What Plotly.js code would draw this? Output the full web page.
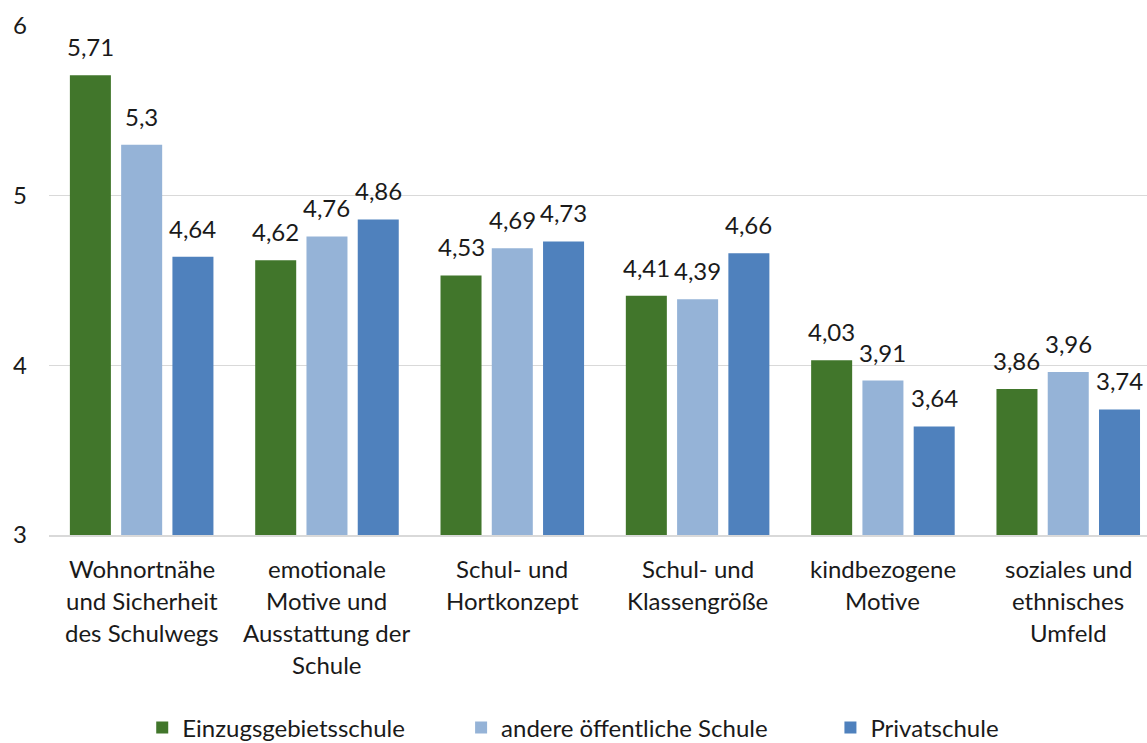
<!DOCTYPE html>
<html>
<head>
<meta charset="utf-8">
<script src="https://cdn.plot.ly/plotly-3.0.1.min.js"></script>
<style>
  html, body { margin: 0; padding: 0; background: #fff; }
  #plot { width: 1147px; height: 743px; }
</style>
</head>
<body>
<div id="plot"></div>
<script>
const categories = [
    ['Wohnortnähe', 'und Sicherheit', 'des Schulwegs'],
    ['emotionale', 'Motive und', 'Ausstattung der', 'Schule'],
    ['Schul- und', 'Hortkonzept'],
    ['Schul- und', 'Klassengröße'],
    ['kindbezogene', 'Motive'],
    ['soziales und', 'ethnisches', 'Umfeld']
];
const seriesNames = ['Einzugsgebietsschule', 'andere öffentliche Schule', 'Privatschule'];
const einzugsgebiet = [5.71, 4.62, 4.53, 4.41, 4.03, 3.86];
const andereOeffentlich = [5.30, 4.76, 4.69, 4.39, 3.91, 3.96];
const privat = [4.64, 4.86, 4.73, 4.66, 3.64, 3.74];
const yTicks = [3, 4, 5, 6];

const FONT = 'Lato, "Open Sans", sans-serif';
const FS = 24;
const TEXT = '#1a1a1a';
const keys = categories.map(c => c.join(' '));

const W = 1147, H = 743;
const margin = { l: 49, r: 0, t: 26, b: 208, autoexpand: false };
const xRange = [-0.5, 5.425];
const bargap = 0.17;

const series = [einzugsgebiet, andereOeffentlich, privat];
const colors = ['#41762b', '#95b3d7', '#4f81bd'];
const legendX = [0.124, 0.402, 0.724];

const traces = series.map((values, k) => ({
    type: 'bar',
    name: seriesNames[k],
    x: keys,
    y: values,
    marker: { color: colors[k], line: { width: 0 } },
    legend: k === 0 ? 'legend' : 'legend' + (k + 1),
    hoverinfo: 'x+y'
}));

const annotations = [];

// value labels above the bars (annotations so they sit a bit higher than bar text)
const catPx = (W - margin.l - margin.r) / (xRange[1] - xRange[0]);
const slotPx = catPx * (1 - bargap) / series.length;
series.forEach((values, k) => {
    values.forEach((v, i) => {
        annotations.push({
            x: keys[i], xref: 'x',
            y: v, yref: 'y',
            yanchor: 'bottom',
            xshift: (k - (series.length - 1) / 2) * slotPx,
            yshift: 12,
            text: String(v).replace('.', ','),
            showarrow: false,
            font: { family: FONT, size: FS, color: TEXT }
        });
    });
});

// category labels, one annotation per line to get the wider line spacing
categories.forEach((lines, i) => {
    lines.forEach((line, j) => {
        annotations.push({
            x: keys[i], xref: 'x',
            y: 0, yref: 'paper',
            yanchor: 'top',
            yshift: -17 - 32 * j,
            text: line,
            showarrow: false,
            font: { family: FONT, size: FS, color: TEXT }
        });
    });
});
annotations.push({
    x: 0.006, xref: 'paper', xanchor: 'right',
    y: 1, yref: 'paper', yanchor: 'bottom', yshift: 22,
    text: 'Mittelwerte', showarrow: false,
    font: { family: FONT, size: FS, color: TEXT }
});

function legendAt(x) {
    return {
        orientation: 'h',
        x: x, xanchor: 'left', xref: 'container',
        y: -0.379, yanchor: 'middle', yref: 'paper',
        font: { family: FONT, size: FS, color: TEXT },
        itemwidth: 30,
        itemclick: false
    };
}

const layout = {
    width: W,
    height: H,
    margin: margin,
    paper_bgcolor: 'white',
    plot_bgcolor: 'white',
    separators: ',.',
    barmode: 'group',
    bargap: bargap,
    bargroupgap: 0.2,
    font: { family: FONT, size: FS, color: TEXT },
    xaxis: {
        type: 'category',
        range: xRange,
        showticklabels: false,
        showgrid: false,
        showline: true,
        linecolor: '#d9d9d9',
        linewidth: 2,
        ticks: ''
    },
    yaxis: {
        range: [3, 6],
        tickvals: yTicks,
        ticktext: yTicks.map(String),
        showgrid: true,
        gridcolor: '#d9d9d9',
        gridwidth: 1.5,
        zeroline: false,
        showline: false,
        ticks: '',
        ticklabelstandoff: 21,
        tickfont: { family: FONT, size: FS, color: TEXT }
    },
    showlegend: true,
    legend: legendAt(legendX[0]),
    legend2: legendAt(legendX[1]),
    legend3: legendAt(legendX[2]),
    annotations: annotations
};

Plotly.newPlot('plot', traces, layout, { displayModeBar: false, staticPlot: true });
</script>
</body>
</html>
